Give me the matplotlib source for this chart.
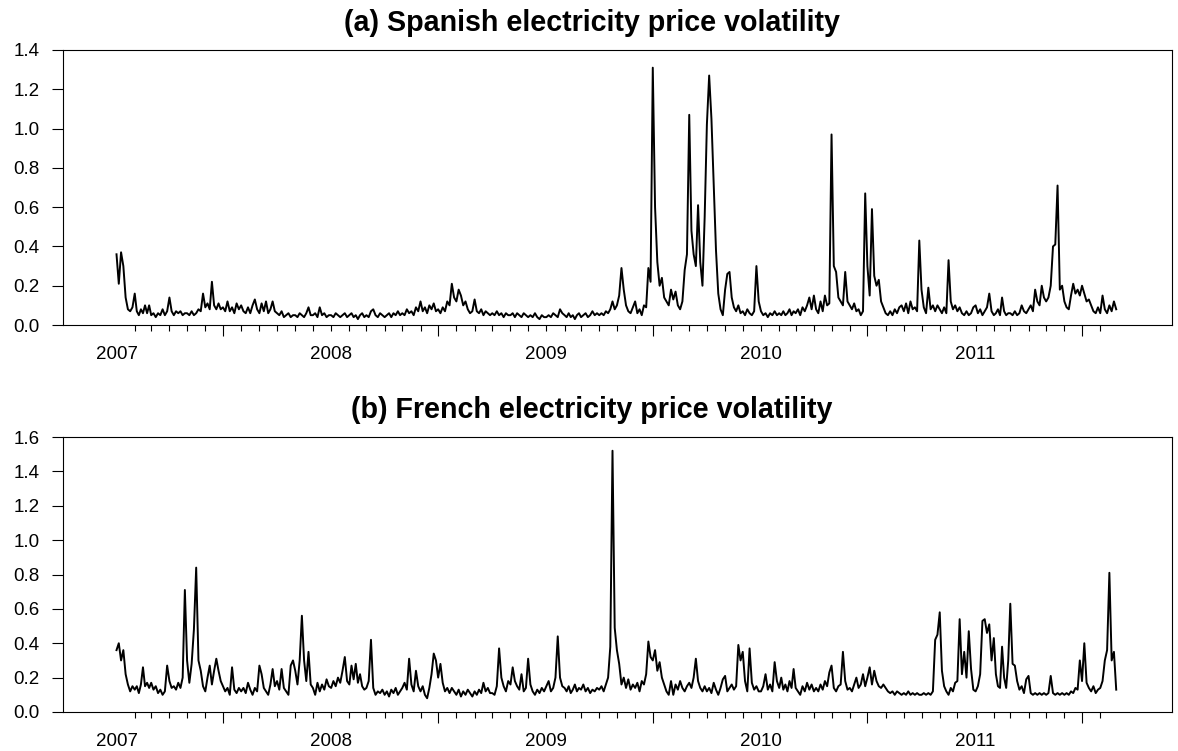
import numpy as np
import pandas as pd
import matplotlib
matplotlib.use("Agg")
import matplotlib.pyplot as plt
import matplotlib.dates as mdates
from matplotlib.ticker import FormatStrFormatter

plt.rcParams['font.family'] = ['Liberation Sans', 'DejaVu Sans']

# volatilidade diaria, 8 valores por mes (jan/2007 .. ago/2011)
sp_2007 = [
    0.36, 0.21, 0.37, 0.30, 0.14, 0.08, 0.07, 0.09,
    0.16, 0.07, 0.05, 0.08, 0.06, 0.10, 0.06, 0.10,
    0.05, 0.06, 0.04, 0.06, 0.05, 0.08, 0.05, 0.07,
    0.14, 0.07, 0.05, 0.07, 0.06, 0.07, 0.05, 0.06,
    0.06, 0.05, 0.07, 0.05, 0.06, 0.08, 0.07, 0.16,
    0.09, 0.11, 0.08, 0.22, 0.10, 0.08, 0.11, 0.08,
    0.09, 0.07, 0.12, 0.07, 0.09, 0.06, 0.11, 0.08,
    0.10, 0.07, 0.06, 0.09, 0.06, 0.10, 0.13, 0.08,
    0.06, 0.11, 0.07, 0.12, 0.06, 0.08, 0.12, 0.07,
    0.06, 0.05, 0.07, 0.04, 0.05, 0.06, 0.04, 0.05,
    0.05, 0.04, 0.06, 0.05, 0.04, 0.06, 0.09, 0.05,
    0.05, 0.06, 0.04, 0.09, 0.05, 0.06, 0.04, 0.05,
]
sp_2008 = [
    0.05, 0.04, 0.06, 0.05, 0.04, 0.05, 0.06, 0.04,
    0.05, 0.06, 0.04, 0.05, 0.03, 0.05, 0.06, 0.04,
    0.05, 0.04, 0.07, 0.08, 0.05, 0.04, 0.06, 0.05,
    0.04, 0.05, 0.06, 0.04, 0.06, 0.05, 0.07, 0.05,
    0.06, 0.05, 0.08, 0.06, 0.07, 0.05, 0.09, 0.07,
    0.12, 0.07, 0.09, 0.06, 0.10, 0.08, 0.11, 0.07,
    0.08, 0.06, 0.09, 0.07, 0.12, 0.10, 0.21, 0.14,
    0.12, 0.18, 0.15, 0.10, 0.12, 0.08, 0.06, 0.07,
    0.13, 0.07, 0.06, 0.08, 0.05, 0.07, 0.06, 0.05,
    0.06, 0.05, 0.07, 0.05, 0.06, 0.04, 0.06, 0.05,
    0.05, 0.06, 0.04, 0.06, 0.05, 0.04, 0.06, 0.05,
    0.04, 0.05, 0.04, 0.06, 0.04, 0.03, 0.05, 0.04,
]
sp_2009 = [
    0.04, 0.05, 0.04, 0.06, 0.05, 0.04, 0.08, 0.06,
    0.05, 0.04, 0.06, 0.04, 0.05, 0.03, 0.05, 0.06,
    0.04, 0.05, 0.06, 0.04, 0.05, 0.07, 0.05, 0.06,
    0.05, 0.06, 0.05, 0.07, 0.06, 0.08, 0.12, 0.08,
    0.10, 0.15, 0.29, 0.18, 0.10, 0.07, 0.06, 0.09,
    0.12, 0.06, 0.08, 0.05, 0.10, 0.09, 0.29, 0.22,
    1.31, 0.60, 0.32, 0.20, 0.24, 0.14, 0.12, 0.10,
    0.18, 0.13, 0.17, 0.10, 0.08, 0.12, 0.28, 0.36,
    1.07, 0.48, 0.36, 0.30, 0.61, 0.32, 0.20, 0.55,
    1.02, 1.27, 1.05, 0.72, 0.38, 0.16, 0.08, 0.05,
    0.18, 0.26, 0.27, 0.14, 0.09, 0.07, 0.10, 0.06,
    0.07, 0.05, 0.08, 0.06, 0.05, 0.07, 0.30, 0.12,
]
sp_2010 = [
    0.07, 0.05, 0.06, 0.04, 0.06, 0.05, 0.07, 0.05,
    0.06, 0.05, 0.07, 0.05, 0.06, 0.08, 0.05, 0.07,
    0.06, 0.08, 0.05, 0.09, 0.07, 0.10, 0.14, 0.08,
    0.15, 0.08, 0.06, 0.12, 0.07, 0.15, 0.10, 0.11,
    0.97, 0.30, 0.27, 0.14, 0.12, 0.10, 0.27, 0.12,
    0.10, 0.08, 0.11, 0.07, 0.08, 0.05, 0.07, 0.67,
    0.30, 0.15, 0.59, 0.25, 0.20, 0.23, 0.12, 0.09,
    0.06, 0.05, 0.07, 0.05, 0.08, 0.06, 0.09, 0.10,
    0.07, 0.11, 0.06, 0.12, 0.08, 0.09, 0.07, 0.43,
    0.18, 0.09, 0.06, 0.19, 0.08, 0.10, 0.07, 0.10,
    0.08, 0.06, 0.09, 0.06, 0.33, 0.12, 0.08, 0.10,
    0.07, 0.09, 0.06, 0.05, 0.07, 0.05, 0.06, 0.09,
]
sp_2011 = [
    0.10, 0.06, 0.08, 0.05, 0.07, 0.09, 0.16, 0.07,
    0.05, 0.06, 0.08, 0.05, 0.14, 0.07, 0.05, 0.06,
    0.06, 0.05, 0.07, 0.05, 0.06, 0.10, 0.07, 0.06,
    0.08, 0.10, 0.07, 0.18, 0.12, 0.10, 0.20, 0.14,
    0.12, 0.14, 0.20, 0.40, 0.41, 0.71, 0.18, 0.20,
    0.12, 0.09, 0.08, 0.15, 0.21, 0.16, 0.18, 0.15,
    0.20, 0.16, 0.12, 0.13, 0.10, 0.07, 0.06, 0.09,
    0.06, 0.15, 0.08, 0.06, 0.10, 0.07, 0.12, 0.08,
]

fr_2007 = [
    0.36, 0.40, 0.30, 0.36, 0.22, 0.16, 0.12, 0.15,
    0.13, 0.15, 0.11, 0.16, 0.26, 0.15, 0.17, 0.14,
    0.17, 0.13, 0.15, 0.11, 0.13, 0.10, 0.12, 0.27,
    0.18, 0.14, 0.15, 0.13, 0.17, 0.14, 0.20, 0.71,
    0.30, 0.17, 0.28, 0.48, 0.84, 0.30, 0.24, 0.15,
    0.12, 0.20, 0.27, 0.16, 0.24, 0.31, 0.24, 0.18,
    0.15, 0.12, 0.14, 0.10, 0.26, 0.13, 0.11, 0.14,
    0.12, 0.14, 0.11, 0.17, 0.13, 0.10, 0.14, 0.12,
    0.27, 0.22, 0.14, 0.12, 0.10, 0.16, 0.25, 0.15,
    0.18, 0.13, 0.25, 0.14, 0.12, 0.10, 0.27, 0.30,
    0.24, 0.16, 0.30, 0.56, 0.30, 0.18, 0.35, 0.16,
    0.14, 0.10, 0.17, 0.12, 0.16, 0.13, 0.19, 0.15,
]
fr_2008 = [
    0.14, 0.18, 0.15, 0.20, 0.17, 0.24, 0.32, 0.18,
    0.16, 0.27, 0.19, 0.28, 0.17, 0.22, 0.15, 0.13,
    0.14, 0.18, 0.42, 0.14, 0.10, 0.12, 0.11, 0.13,
    0.10, 0.12, 0.09, 0.13, 0.11, 0.14, 0.10, 0.12,
    0.14, 0.17, 0.13, 0.31, 0.16, 0.12, 0.24, 0.15,
    0.12, 0.15, 0.10, 0.08, 0.14, 0.22, 0.34, 0.30,
    0.20, 0.28, 0.17, 0.12, 0.14, 0.11, 0.14, 0.12,
    0.10, 0.13, 0.09, 0.12, 0.10, 0.13, 0.11, 0.09,
    0.12, 0.10, 0.13, 0.11, 0.17, 0.12, 0.14, 0.11,
    0.11, 0.10, 0.15, 0.37, 0.20, 0.15, 0.12, 0.18,
    0.16, 0.26, 0.18, 0.15, 0.13, 0.22, 0.12, 0.14,
    0.31, 0.16, 0.12, 0.10, 0.13, 0.11, 0.14, 0.12,
]
fr_2009 = [
    0.15, 0.18, 0.12, 0.14, 0.20, 0.44, 0.20, 0.15,
    0.14, 0.12, 0.15, 0.11, 0.13, 0.16, 0.12, 0.14,
    0.13, 0.16, 0.12, 0.14, 0.11, 0.13, 0.12, 0.14,
    0.13, 0.15, 0.12, 0.16, 0.20, 0.38, 1.52, 0.49,
    0.36, 0.28, 0.16, 0.20, 0.14, 0.19, 0.13, 0.16,
    0.14, 0.17, 0.12, 0.18, 0.16, 0.22, 0.41, 0.32,
    0.30, 0.36, 0.24, 0.29, 0.20, 0.16, 0.12, 0.10,
    0.18, 0.10, 0.16, 0.13, 0.18, 0.14, 0.12, 0.15,
    0.17, 0.14, 0.20, 0.31, 0.18, 0.14, 0.12, 0.15,
    0.12, 0.14, 0.11, 0.17, 0.13, 0.10, 0.14, 0.19,
    0.21, 0.12, 0.14, 0.16, 0.13, 0.15, 0.39, 0.30,
    0.35, 0.18, 0.12, 0.37, 0.17, 0.13, 0.15, 0.12,
]
fr_2010 = [
    0.12, 0.15, 0.22, 0.13, 0.16, 0.12, 0.29, 0.18,
    0.14, 0.20, 0.13, 0.16, 0.12, 0.18, 0.14, 0.25,
    0.14, 0.12, 0.10, 0.15, 0.12, 0.17, 0.13, 0.16,
    0.12, 0.14, 0.12, 0.16, 0.13, 0.18, 0.15, 0.23,
    0.27, 0.14, 0.12, 0.15, 0.16, 0.35, 0.18, 0.13,
    0.14, 0.12, 0.16, 0.20, 0.14, 0.16, 0.22, 0.15,
    0.20, 0.26, 0.16, 0.24, 0.18, 0.15, 0.14, 0.16,
    0.14, 0.12, 0.11, 0.12, 0.10, 0.12, 0.11, 0.10,
    0.11, 0.10, 0.12, 0.10, 0.11, 0.10, 0.11, 0.10,
    0.10, 0.11, 0.10, 0.11, 0.10, 0.12, 0.42, 0.45,
    0.58, 0.24, 0.15, 0.12, 0.10, 0.14, 0.12, 0.17,
    0.18, 0.54, 0.22, 0.35, 0.20, 0.47, 0.25, 0.13,
]
fr_2011 = [
    0.12, 0.15, 0.22, 0.53, 0.54, 0.46, 0.51, 0.30,
    0.43, 0.22, 0.15, 0.14, 0.38, 0.20, 0.14, 0.30,
    0.63, 0.28, 0.27, 0.18, 0.13, 0.15, 0.11, 0.19,
    0.21, 0.11, 0.10, 0.11, 0.10, 0.11, 0.10, 0.11,
    0.10, 0.11, 0.21, 0.11, 0.10, 0.11, 0.10, 0.11,
    0.10, 0.11, 0.10, 0.12, 0.11, 0.14, 0.13, 0.30,
    0.18, 0.40, 0.17, 0.14, 0.12, 0.15, 0.11, 0.13,
    0.14, 0.18, 0.30, 0.36, 0.81, 0.30, 0.35, 0.13,
]

anos = [2007, 2008, 2009, 2010, 2011]

sp_vol = sp_2007 + sp_2008 + sp_2009 + sp_2010 + sp_2011
fr_vol = fr_2007 + fr_2008 + fr_2009 + fr_2010 + fr_2011


def datas_mensais(n_meses):
    # 8 pontos espalhados dentro de cada mes
    inicio = pd.date_range('2007-01-01', periods=n_meses, freq='MS')
    out = []
    for s in inicio:
        dim = s.days_in_month
        for k in range(8):
            out.append(s + pd.Timedelta(days=k * dim / 8))
    return mdates.date2num(out)


datas = datas_mensais(len(sp_vol) // 8)

fig = plt.figure(figsize=(11.78, 7.51), dpi=100)
W, H = 1178, 751
ax1 = fig.add_axes([63 / W, 426 / H, 1109 / W, 275 / H])
ax2 = fig.add_axes([63 / W, 39 / H, 1109 / W, 275 / H])

x_ini = mdates.date2num(pd.Timestamp('2006-10-02'))
x_fim = mdates.date2num(pd.Timestamp('2011-12-01'))
maiores = mdates.date2num(pd.date_range('2007-07-01', '2011-07-01', freq='12MS'))
menores = [d for d in pd.date_range('2007-02-01', '2011-08-01', freq='MS') if d.month != 7]
menores = mdates.date2num(menores)

paineis = [
    (ax1, sp_vol, 1.4, "(a) Spanish electricity price volatility"),
    (ax2, fr_vol, 1.6, "(b) French electricity price volatility"),
]

# titulo centrado na figura, nao no eixo
x_tit = (592 - 63) / 1109

for ax, vals, ymax, titulo in paineis:
    ax.plot(datas, vals, color='black', linewidth=1.4)
    ax.set_xlim(x_ini, x_fim)
    ax.set_ylim(0, ymax)
    ax.set_yticks(np.arange(0, ymax + 0.01, 0.2))
    ax.yaxis.set_major_formatter(FormatStrFormatter('%.1f'))
    ax.set_xticks(maiores)
    ax.set_xticks(menores, minor=True)
    ax.tick_params(axis='x', which='major', length=8, width=0.8, labelbottom=False)
    ax.tick_params(axis='x', which='minor', length=4, width=0.8)
    ax.tick_params(axis='y', length=8, width=0.8, labelsize=13.5, pad=9)
    for sp in ax.spines.values():
        sp.set_linewidth(0.8)
    for ano in anos:
        xa = mdates.date2num(pd.Timestamp(f'{ano}-01-01'))
        ax.annotate(str(ano), xy=(xa, 0), xycoords=('data', 'axes fraction'),
                    xytext=(0, -24.8), textcoords='offset points',
                    ha='center', va='baseline', fontsize=13.5)
    ax.set_title(titulo, fontsize=20.6, fontweight='bold', pad=14, x=x_tit)

fig.savefig('out.png', dpi=100)
